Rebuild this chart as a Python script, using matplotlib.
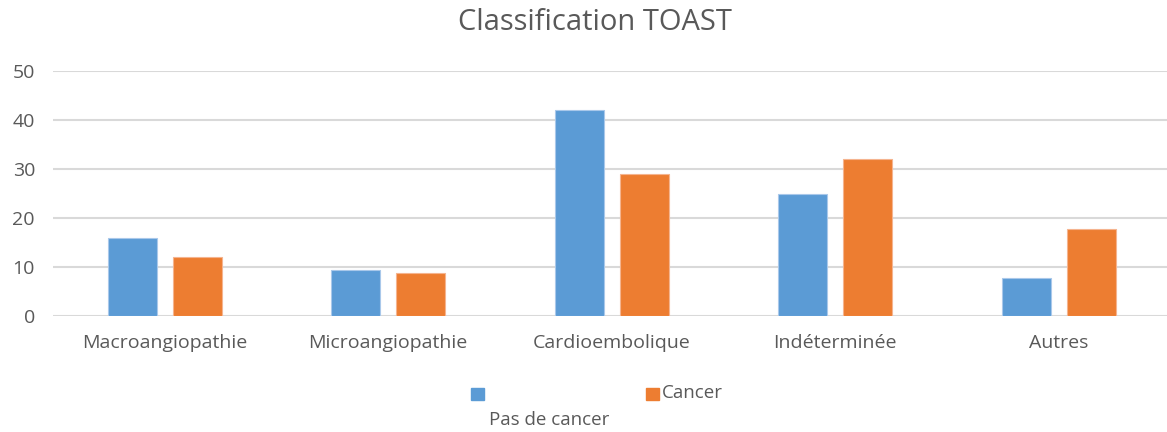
import numpy as np
import matplotlib
matplotlib.use('Agg')
import matplotlib.pyplot as plt
from matplotlib.patches import Rectangle

categories = ['Macroangiopathie', 'Microangiopathie', 'Cardioembolique',
              'Indéterminée', 'Autres']
pas_de_cancer = [16, 9.4, 42, 25, 7.8]
cancer = [12, 8.7, 29, 32, 17.8]
yticks = [0, 10, 20, 30, 40, 50]

blue = '#5b9bd5'
orange = '#ed7d31'
grey = '#595959'

plt.rcParams['font.family'] = ['Open Sans', 'DejaVu Sans']

fig = plt.figure(figsize=(11.67, 4.32), dpi=100)
W, H = 1167, 432
ax = fig.add_axes([53 / W, 1 - 316 / H, (W - 53) / W, (316 - 71) / H])

x = np.arange(len(categories))
bw = 0.22
off = 0.145
ax.bar(x - off, pas_de_cancer, bw, color=blue, edgecolor='#a9c8ea', lw=0.8,
       zorder=3)
ax.bar(x + off, cancer, bw, color=orange, edgecolor='#f5b48f', lw=0.8,
       zorder=3)

ax.set_xlim(-0.5, -0.5 + (W - 53) / 223.5)
ax.set_ylim(0, 50)
ax.set_yticks(yticks)
ax.set_xticks(x)
ax.set_xticklabels(categories, fontsize=14, color=grey)
ax.tick_params(axis='y', labelsize=14, labelcolor=grey, length=0, pad=13)
ax.tick_params(axis='x', length=0, pad=13)
ax.grid(axis='y', color='#d9d9d9', lw=1.5, zorder=0)
for s in ax.spines.values():
    s.set_visible(False)

fig.text(595 / W, 1 - 22 / H, 'Classification TOAST', ha='center',
         va='center', fontsize=21, color=grey)

# legend, laid out as in the original (label wrapped under the key)
fig.patches.append(Rectangle((471 / W, 1 - 400 / H), 13 / W, 12 / H,
                             transform=fig.transFigure, color=blue))
fig.patches.append(Rectangle((646 / W, 1 - 400 / H), 13 / W, 12 / H,
                             transform=fig.transFigure, color=orange))
fig.text(662 / W, 1 - 393 / H, 'Cancer', va='center', fontsize=13.5,
         color=grey)
fig.text(489 / W, 1 - 420 / H, 'Pas de cancer', va='center', fontsize=13.5,
         color=grey)

fig.savefig('out.png', dpi=100)
